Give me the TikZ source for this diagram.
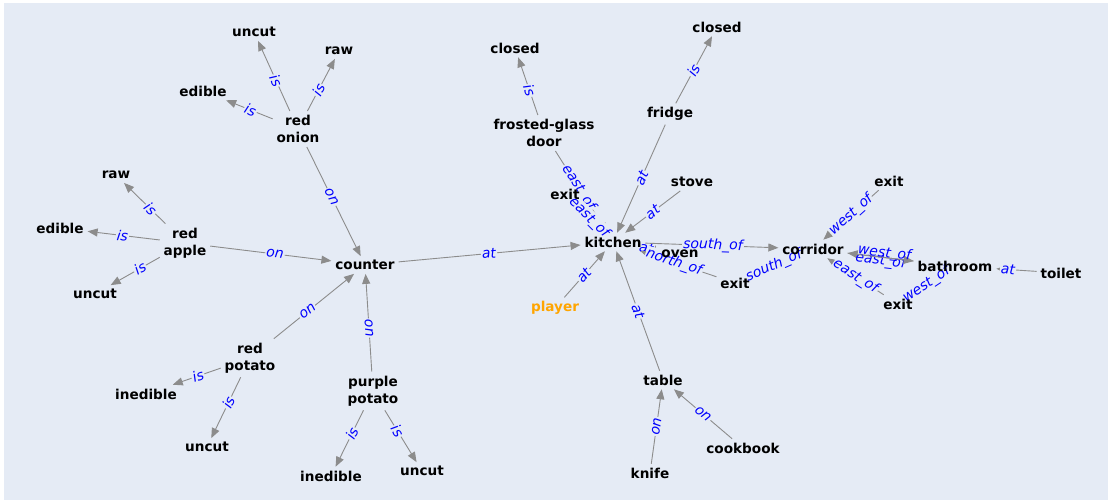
\documentclass[tikz,border=0pt]{standalone}
\usepackage{fontspec}
\setmainfont{DejaVu Sans}
\usetikzlibrary{arrows.meta}
\definecolor{panelblue}{RGB}{229,235,245}
\definecolor{linkgray}{RGB}{140,140,140}
\definecolor{relblue}{RGB}{0,0,255}
\definecolor{playerorange}{RGB}{255,165,0}

\pgfdeclarelayer{links}
\pgfsetlayers{links,main}

\tikzset{
  obj/.style={font=\fontsize{13.6}{17.5}\selectfont\bfseries, align=center, inner sep=2pt, outer sep=2pt},
  link/.style={draw=linkgray, line width=0.9pt, -{Triangle[length=10pt,width=8pt]}},
  rel/.style={font=\fontsize{14}{16}\selectfont\itshape, text=relblue, fill=panelblue, inner sep=1pt, sloped, midway}
}
% arrow between two objects, label half way between their centres
\newcommand{\relate}[4][]{%
  \draw[link] (#2) -- (#4);
  \path (#2.center) -- node[rel,#1] {#3} (#4.center);
}

\begin{document}
\begin{tikzpicture}[x=1pt,y=-1pt]
  \useasboundingbox (0,0) rectangle (1111,502);

  % rooms and exits
  \node[obj] (kitchen) at (613,242) {kitchen};
  \node[obj] (counter) at (365,265) {counter};
  \node[obj] (corridor) at (813,249) {corridor};
  \node[obj] (bathroom) at (955,266) {bathroom};
  \node[obj] (toilet) at (1061,273) {toilet};
  \node[obj] (exitNE) at (889,181) {exit};
  \node[obj] (exitSE) at (898,304) {exit};
  \node[obj] (exitS) at (735,283) {exit};
  \node[obj] (exitW) at (565,194) {exit};

  % kitchen things
  \node[obj] (oven) at (680,254) {oven};
  \node[obj] (stove) at (692,182) {stove};
  \node[obj] (fridge) at (670,114) {fridge};
  \node[obj] (fridgeclosed) at (717,27) {closed};
  \node[obj] (door) at (544,133) {frosted-glass\\door};
  \node[obj] (doorclosed) at (515,48) {closed};
  \node[obj, text=playerorange] (player) at (555,308) {player};
  \node[obj] (table) at (663,380) {table};
  \node[obj] (knife) at (650,473) {knife};
  \node[obj] (cookbook) at (743,448) {cookbook};

  % food on the counter
  \node[obj] (onion) at (298,129) {red\\onion};
  \node[obj] (onionuncut) at (254,32) {uncut};
  \node[obj] (onionraw) at (339,51) {raw};
  \node[obj] (onionedible) at (203,91) {edible};
  \node[obj] (apple) at (185,243) {red\\apple};
  \node[obj] (appleraw) at (116,175) {raw};
  \node[obj] (appleedible) at (60,228) {edible};
  \node[obj] (appleuncut) at (95,294) {uncut};
  \node[obj] (rpotato) at (250,358) {red\\potato};
  \node[obj] (rpotinedible) at (146,394) {inedible};
  \node[obj] (rpotuncut) at (207,447) {uncut};
  \node[obj] (ppotato) at (373,391) {purple\\potato};
  \node[obj] (ppotinedible) at (331,476) {inedible};
  \node[obj] (ppotuncut) at (422,471) {uncut};

  \begin{pgfonlayer}{links}
    \fill[panelblue] (4,3) rectangle (1108,500);

    % properties
    \relate{onion}{is}{onionuncut}
    \relate{onion}{is}{onionraw}
    \relate{onion}{is}{onionedible}
    \relate{apple}{is}{appleraw}
    \relate{apple}{is}{appleedible}
    \relate{apple}{is}{appleuncut}
    \relate{rpotato}{is}{rpotinedible}
    \relate{rpotato}{is}{rpotuncut}
    \relate{ppotato}{is}{ppotinedible}
    \relate{ppotato}{is}{ppotuncut}
    \relate{door}{is}{doorclosed}
    \relate{fridge}{is}{fridgeclosed}

    % on
    \relate{onion}{on}{counter}
    \relate{apple}{on}{counter}
    \relate{rpotato}{on}{counter}
    \relate{ppotato}{on}{counter}
    \relate{knife}{on}{table}
    \relate{cookbook}{on}{table}

    % at
    \relate{counter}{at}{kitchen}
    \relate{fridge}{at}{kitchen}
    \relate{stove}{at}{kitchen}
    \relate{player}{at}{kitchen}
    \relate{table}{at}{kitchen}
    \relate{oven}{at}{kitchen}
    \relate{toilet}{at}{bathroom}

    % map
    \relate{door}{east\_of}{kitchen}
    \relate{exitW}{east\_of}{kitchen}
    \relate{exitS}{north\_of}{kitchen}
    \relate{kitchen}{south\_of}{corridor}
    \relate{exitS}{south\_of}{corridor}
    \relate{exitNE}{west\_of}{corridor}
    \relate{exitSE}{east\_of}{corridor}
    \relate{exitSE}{west\_of}{bathroom}
    \relate[below=-4pt, xshift=-3pt, fill=none]{bathroom}{east\_of}{corridor}
    \relate[above=-4pt, fill=none]{corridor}{west\_of}{bathroom}
  \end{pgfonlayer}
\end{tikzpicture}
\end{document}
